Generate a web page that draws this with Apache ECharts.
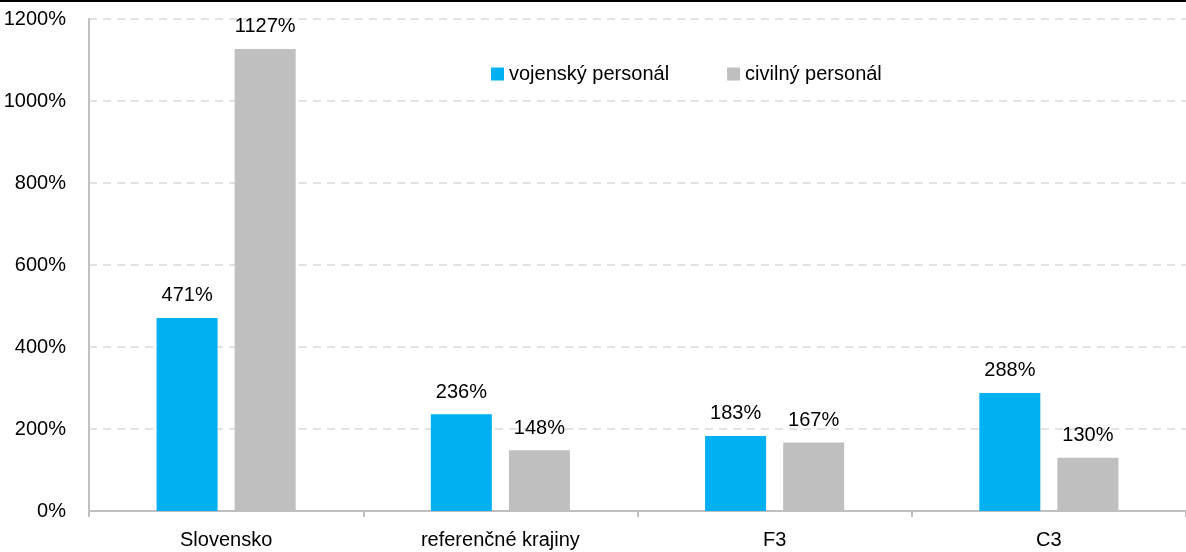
<!DOCTYPE html>
<html>
<head>
<meta charset="utf-8">
<script src="https://cdn.jsdelivr.net/npm/echarts@6/dist/echarts.min.js"></script>
<style>
  html, body { margin: 0; padding: 0; background: #fff; }
  body { border-top: 2px solid #000; }
  #chart { width: 1186px; height: 550px; }
</style>
</head>
<body>
<div id="chart"></div>
<script>
// kategórie a hodnoty (v %)
var categories = ['Slovensko', 'referenčné krajiny', 'F3', 'C3']
var vojensky = [471, 236, 183, 288]
var civilny = [1127, 148, 167, 130]
var seriesNames = ['vojenský personál', 'civilný personál']

var font = '"Liberation Sans", Arial, sans-serif'
var fs = 20
var chart = echarts.init(document.getElementById('chart'))

var pct = function (v) { return v + '%' }

chart.setOption({
  animation: false,
  color: ['#00B0F0', '#BFBFBF'],
  textStyle: { fontFamily: font, color: '#000' },
  legend: {
    data: seriesNames,
    left: 486,
    top: 57,
    itemWidth: 13,
    itemHeight: 13,
    itemGap: 58,
    itemStyle: { borderWidth: 0 },
    icon: 'rect',
    textStyle: { fontFamily: font, fontSize: fs, color: '#000' }
  },
  grid: {
    left: 89,
    right: 0,
    top: 17,
    bottom: 41,
    outerBoundsMode: 'none',
    containLabel: false
  },
  xAxis: {
    type: 'category',
    data: categories,
    axisLine: { lineStyle: { color: '#BFBFBF', width: 2 } },
    axisTick: { show: true, length: 6, lineStyle: { color: '#BFBFBF', width: 2 } },
    axisLabel: { fontFamily: font, fontSize: fs, color: '#000', margin: 19 }
  },
  yAxis: {
    type: 'value',
    min: 0,
    max: 1200,
    interval: 200,
    axisLine: { show: true, lineStyle: { color: '#BFBFBF', width: 2 } },
    axisTick: { show: false },
    axisLabel: { formatter: pct, fontFamily: font, fontSize: fs, color: '#000', margin: 23 },
    splitLine: { lineStyle: { color: '#D9D9D9', width: 1.5, type: [8, 6] } }
  },
  series: [
    {
      name: seriesNames[0],
      type: 'bar',
      data: vojensky,
      barWidth: 61,
      barGap: '28%',
      label: { show: true, position: 'top', distance: 12, formatter: '{c}%', fontFamily: font, fontSize: fs, color: '#000' }
    },
    {
      name: seriesNames[1],
      type: 'bar',
      data: civilny,
      barWidth: 61,
      barGap: '28%',
      label: { show: true, position: 'top', distance: 12, formatter: '{c}%', fontFamily: font, fontSize: fs, color: '#000' }
    }
  ]
})
</script>
</body>
</html>
